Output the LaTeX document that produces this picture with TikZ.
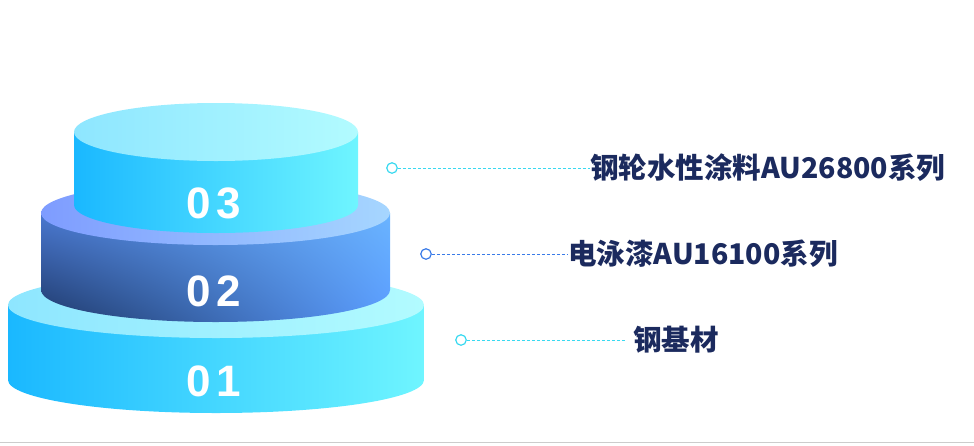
\documentclass[tikz,border=0pt]{standalone}
\usepackage{fontspec}
\usetikzlibrary{shadings}
\setmainfont{Liberation Sans}
\newfontfamily\cjk{Noto Sans CJK SC}
\definecolor{navy}{HTML}{1B2A5E}
\definecolor{cyanA}{HTML}{1AB8FF}
\definecolor{cyanB}{HTML}{6FF5FF}
\definecolor{cyanT1}{HTML}{8EE6FF}
\definecolor{cyanT2}{HTML}{B2FBFF}
\definecolor{blueA}{HTML}{1E3868}
\definecolor{blueUL}{HTML}{4A78D0}
\definecolor{blueLR}{HTML}{5A9CFF}
\definecolor{blueC}{HTML}{6AB4FF}
\definecolor{blueT1}{HTML}{7E9CFF}
\definecolor{blueT2}{HTML}{A6D6FF}
\definecolor{dotC}{HTML}{39D9F0}
\definecolor{dotB}{HTML}{3A7BE8}
\begin{document}
\begin{tikzpicture}[x=1pt,y=-1pt,
  num/.style={text=white,font=\fontsize{44}{44}\bfseries\addfontfeatures{LetterSpace=12}},
  lbl/.style={text=navy,font=\cjk\fontsize{28.5}{28.5}\bfseries,anchor=west,inner sep=0pt},
  dot/.style={circle,draw,line width=1.2pt,fill=white,minimum size=10.5pt,inner sep=0pt},
  lead/.style={dashed,line width=0.8pt,dash pattern=on 3pt off 2pt}]
\useasboundingbox (0,0) rectangle (974,445);
\draw[gray!40,line width=1pt] (0,442) -- (974,442);
% bottom
\shade[left color=cyanA,right color=cyanB]
  (8,305) -- (8,380) arc[start angle=180,end angle=0,x radius=208,y radius=33] -- (424,305) -- cycle;
\shade[left color=cyanT1,right color=cyanT2] (216,305) ellipse[x radius=208,y radius=33];
% middle
\shade[lower left=blueA,upper left=blueUL,upper right=blueC,lower right=blueLR]
  (41,213) -- (41,290) arc[start angle=180,end angle=0,x radius=174.5,y radius=32] -- (390,213) -- cycle;
\shade[left color=blueT1,right color=blueT2] (215.5,213) ellipse[x radius=174.5,y radius=32];
% top
\shade[left color=cyanA,right color=cyanB]
  (74,132) -- (74,205) arc[start angle=180,end angle=0,x radius=142,y radius=28] -- (358,132) -- cycle;
\shade[left color=cyanT1,right color=cyanT2] (216,132) ellipse[x radius=142,y radius=29];
\node[num] (n3) at (214,203) {03};
\node[num] (n2) at (214,291) {02};
\node[num] (n1) at (214,381) {01};
% labels
\node[lbl] (t3) at (590,168) {钢轮水性涂料AU26800系列};
\node[lbl] (t2) at (568,254) {电泳漆AU16100系列};
\node[lbl] (t1) at (633,340) {钢基材};
\node[dot,draw=dotC] (d3) at (392,168) {};
\node[dot,draw=dotB] (d2) at (426,254) {};
\node[dot,draw=dotC] (d1) at (461,340) {};
\draw[lead,dotC] (d3) -- (t3.west);
\draw[lead,dotB] (d2) -- (t2.west);
\draw[lead,dotC] (d1) -- ([xshift=-8pt]t1.west);
\end{tikzpicture}
\end{document}
